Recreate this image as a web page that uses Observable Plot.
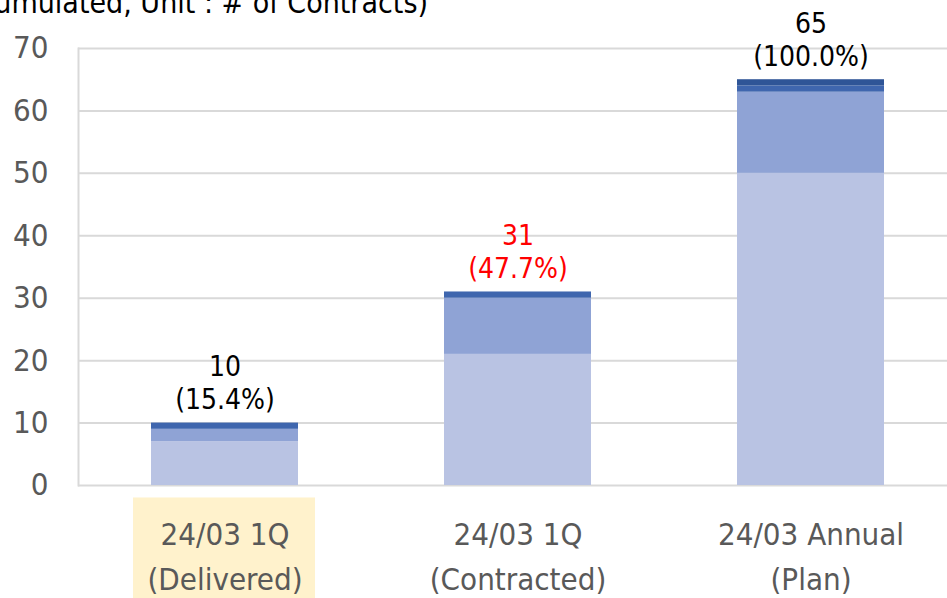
<!DOCTYPE html>
<html>
<head>
<meta charset="utf-8">
<script src="https://cdn.jsdelivr.net/npm/d3@7"></script>
<script src="https://cdn.jsdelivr.net/npm/@observablehq/plot@0.6"></script>
<style>
  html, body { margin: 0; padding: 0; background: #fff; }
  #chart { position: relative; width: 947px; height: 598px; overflow: hidden; }
  svg { font-family: "DejaVu Sans Condensed", "DejaVu Sans", sans-serif; }
</style>
</head>
<body>
<div id="chart"></div>
<script>
// ---- data ----
const categories = ["24/03 1Q (Delivered)", "24/03 1Q (Contracted)", "24/03 Annual (Plan)"];
const tickLine1 = ["24/03 1Q", "24/03 1Q", "24/03 Annual"];
const tickLine2 = ["(Delivered)", "(Contracted)", "(Plan)"];
const seriesNames = ["Series 1", "Series 2", "Series 3", "Series 4"];
const series1 = [7, 21, 50];
const series2 = [2, 9, 13];
const series3 = [1, 1, 1];
const series4 = [0, 0, 1];
const totals = [10, 31, 65];
const shares = ["15.4%", "47.7%", "100.0%"];
const unitNote = "(Cumulated, Unit : # of Contracts)";

// ---- styles ----
const seriesColors = ["#B9C3E3", "#8FA3D5", "#3F66AE", "#2F5597"];
const highlightedCategory = 0;   // shaded tick label
const highlightedLabel = 1;      // red value label

const seriesValues = [series1, series2, series3, series4];
const rows = [];
seriesNames.forEach((s, si) => {
  categories.forEach((c, ci) => {
    rows.push({cat: c, series: s, value: seriesValues[si][ci]});
  });
});
const labels = categories.map((c, i) => ({cat: c, total: totals[i], text: `${totals[i]}\n(${shares[i]})`, i}));
const tickMap = new Map(categories.map((c, i) => [c, `${tickLine1[i]}\n${tickLine2[i]}`]));

const plot = Plot.plot({
  width: 947,
  height: 598,
  marginTop: 48,
  marginBottom: 113,
  marginLeft: 78,
  marginRight: 0,
  style: {fontFamily: '"DejaVu Sans Condensed", "DejaVu Sans", sans-serif', background: "#fff"},
  x: {domain: categories, range: [78, 957], paddingInner: 0.5, paddingOuter: 0.25, axis: null},
  y: {domain: [0, 70], ticks: d3.range(0, 71, 10), axis: null},
  color: {domain: seriesNames, range: seriesColors},
  marks: [
    Plot.barY([categories[highlightedCategory]], {
      x: d => d, y1: -2, y2: -18.3, fill: "#FFF2CC", insetLeft: -18, insetRight: -17
    }),
    Plot.gridY(d3.range(0, 71, 10), {stroke: "#D9D9D9", strokeOpacity: 1, strokeWidth: 2}),
    Plot.frame({anchor: "left", stroke: "#D9D9D9", strokeWidth: 2}),
    Plot.barY(rows, {x: "cat", y: "value", fill: "series"}),
    Plot.text(labels.filter(d => d.i !== highlightedLabel), {
      x: "cat", y: "total", text: "text", lineAnchor: "bottom", dy: -14,
      fontSize: 28, lineHeight: 1.18, fill: "#000"
    }),
    Plot.text(labels.filter(d => d.i === highlightedLabel), {
      x: "cat", y: "total", text: "text", lineAnchor: "bottom", dy: -14,
      fontSize: 28, lineHeight: 1.18, fill: "#FF0000"
    }),
    Plot.axisY(d3.range(0, 71, 10), {
      tickSize: 0, tickPadding: 30, fontSize: 31, fill: "#595959", label: null
    }),
    Plot.axisX({
      tickSize: 0, tickPadding: 28, fontSize: 31, lineHeight: 1.45, fill: "#595959",
      tickFormat: d => tickMap.get(d), label: null
    })
  ]
});

const svg = d3.select(plot);
svg.append("text")
  .attr("x", 428)
  .attr("y", 13)
  .attr("text-anchor", "end")
  .attr("font-size", 30)
  .attr("fill", "#000")
  .text(unitNote);

document.getElementById("chart").appendChild(plot);
</script>
</body>
</html>
